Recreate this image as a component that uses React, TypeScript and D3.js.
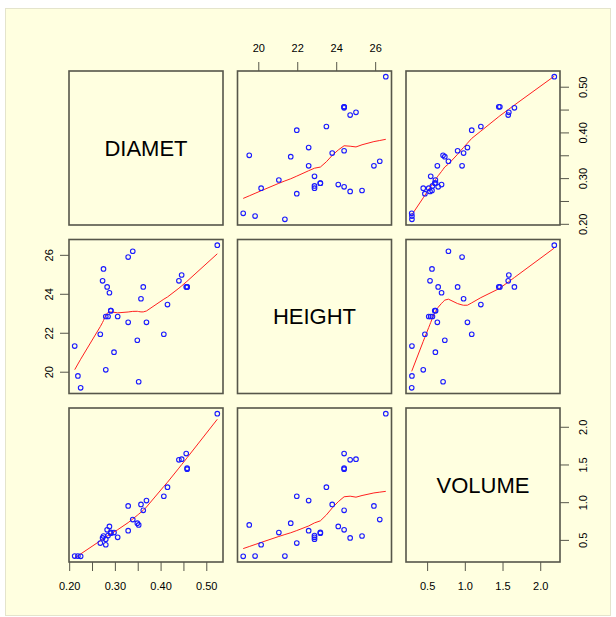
import React from 'react';
import * as d3 from 'd3';

const varNames = ['DIAMET', 'HEIGHT', 'VOLUME'];

const diamet = [0.211, 0.218, 0.224, 0.267, 0.272, 0.274, 0.279, 0.279, 0.282, 0.284, 0.287, 0.290, 0.290, 0.297, 0.305, 0.328, 0.328, 0.338, 0.348, 0.351, 0.356, 0.361, 0.368, 0.406, 0.414, 0.439, 0.445, 0.455, 0.457, 0.457, 0.523];
const height = [21.34, 19.81, 19.20, 21.95, 24.69, 25.30, 20.12, 22.86, 24.38, 22.86, 24.08, 23.16, 23.16, 21.03, 22.86, 22.56, 25.91, 26.21, 21.64, 19.51, 23.77, 24.38, 22.56, 21.95, 23.47, 24.69, 24.99, 24.38, 24.38, 24.38, 26.52];
const volume = [0.292, 0.292, 0.289, 0.464, 0.532, 0.558, 0.442, 0.515, 0.640, 0.564, 0.685, 0.595, 0.606, 0.603, 0.541, 0.629, 0.957, 0.776, 0.728, 0.705, 0.977, 0.898, 1.028, 1.085, 1.206, 1.569, 1.577, 1.651, 1.458, 1.444, 2.180];

const diametTicks = [0.20, 0.25, 0.30, 0.35, 0.40, 0.45, 0.50];
const diametLabels = [0.20, 0.30, 0.40, 0.50];
const heightTicks = [20, 22, 24, 26];
const volumeTicks = [0.5, 1.0, 1.5, 2.0];

// R-style lowess (clowess), used by panel.smooth
function lowess(xIn: number[], yIn: number[], f = 2 / 3, nsteps = 3): [number, number][] {
  const order = d3.range(xIn.length).sort((a, b) => xIn[a] - xIn[b]);
  const x = order.map(i => xIn[i]);
  const y = order.map(i => yIn[i]);
  const n = x.length;
  const delta = 0.01 * (x[n - 1] - x[0]);
  const ys = new Array(n).fill(0);
  const rw = new Array(n).fill(0);
  const res = new Array(n).fill(0);
  const ns = Math.max(2, Math.min(n, Math.floor(f * n + 1e-7)));
  const range = x[n - 1] - x[0];

  const lowest = (xs: number, nleft: number, nright: number, userw: boolean) => {
    const h = Math.max(xs - x[nleft], x[nright] - xs);
    const h9 = 0.999 * h, h1 = 0.001 * h;
    let a = 0;
    let j = nleft;
    while (j < n) {
      res[j] = 0;
      const r = Math.abs(x[j] - xs);
      if (r <= h9) {
        res[j] = r <= h1 ? 1 : Math.pow(1 - Math.pow(r / h, 3), 3);
        if (userw) res[j] *= rw[j];
        a += res[j];
      } else if (x[j] > xs) break;
      j++;
    }
    const nrt = j - 1;
    if (a <= 0) return null;
    for (let k = nleft; k <= nrt; k++) res[k] /= a;
    if (h > 0) {
      a = 0;
      for (let k = nleft; k <= nrt; k++) a += res[k] * x[k];
      let b = xs - a;
      let c = 0;
      for (let k = nleft; k <= nrt; k++) c += res[k] * (x[k] - a) * (x[k] - a);
      if (Math.sqrt(c) > 0.001 * range) {
        b /= c;
        for (let k = nleft; k <= nrt; k++) res[k] *= b * (x[k] - a) + 1;
      }
    }
    let s = 0;
    for (let k = nleft; k <= nrt; k++) s += res[k] * y[k];
    return s;
  };

  let iter = 1;
  while (iter <= nsteps + 1) {
    let nleft = 0, nright = ns - 1, last = -1, i = 0;
    for (;;) {
      if (nright < n - 1) {
        const d1 = x[i] - x[nleft];
        const d2 = x[nright + 1] - x[i];
        if (d1 > d2) { nleft++; nright++; continue; }
      }
      const v = lowest(x[i], nleft, nright, iter > 1);
      ys[i] = v === null ? y[i] : v;
      if (last < i - 1) {
        const denom = x[i] - x[last];
        for (let j = last + 1; j < i; j++) {
          const alpha = (x[j] - x[last]) / denom;
          ys[j] = alpha * ys[i] + (1 - alpha) * ys[last];
        }
      }
      last = i;
      const cut = x[last] + delta;
      for (i = last + 1; i < n; i++) {
        if (x[i] > cut) break;
        if (x[i] === x[last]) { ys[i] = ys[last]; last = i; }
      }
      i = Math.max(last + 1, i - 1);
      if (last >= n - 1) break;
    }
    for (let k = 0; k < n; k++) res[k] = y[k] - ys[k];
    let sc = 0;
    for (let k = 0; k < n; k++) sc += Math.abs(res[k]);
    sc /= n;
    if (iter > nsteps) break;
    const sorted = res.map(Math.abs).sort((a, b) => a - b);
    const m1 = Math.floor(n / 2);
    const cmad = n % 2 === 0 ? 3 * (sorted[m1] + sorted[n - m1 - 1]) : 6 * sorted[m1];
    if (cmad < 1e-7 * sc) break;
    const c9 = 0.999 * cmad, c1 = 0.001 * cmad;
    for (let k = 0; k < n; k++) {
      const r = Math.abs(res[k]);
      rw[k] = r <= c1 ? 1 : r <= c9 ? Math.pow(1 - Math.pow(r / cmad, 2), 2) : 0;
    }
    iter++;
  }
  return x.map((xv, k) => [xv, ys[k]] as [number, number]);
}

const SIZE = 154;
const PITCH = 168.5;
const X0 = 69;
const Y0 = 71;
const FRAME = '#56564a';
const FONT = '"Liberation Sans", Arial, sans-serif';

export default function App() {
  const vars = [diamet, height, volume];

  const padded = vars.map(v => {
    const [lo, hi] = d3.extent(v) as [number, number];
    const ext = (hi - lo) * 0.04;
    return [lo - ext, hi + ext];
  });
  const xs = padded.map((dom, j) => d3.scaleLinear().domain(dom).range([X0 + j * PITCH, X0 + j * PITCH + SIZE]));
  const ys = padded.map((dom, i) => d3.scaleLinear().domain(dom).range([Y0 + i * PITCH + SIZE, Y0 + i * PITCH]));

  const fmts = [d3.format('.2f'), d3.format('d'), d3.format('.1f')];
  const ticks = [diametTicks, heightTicks, volumeTicks];
  const labels = [diametLabels, heightTicks, volumeTicks];

  const panels: React.ReactNode[] = [];
  for (let i = 0; i < 3; i++) {
    for (let j = 0; j < 3; j++) {
      const px = X0 + j * PITCH;
      const py = Y0 + i * PITCH;
      const key = `${i}-${j}`;
      if (i === j) {
        panels.push(
          <text key={key + 't'} x={px + SIZE / 2} y={py + SIZE / 2} textAnchor="middle" dominantBaseline="central"
            fontFamily={FONT} fontSize={22} fill="#000">{varNames[i]}</text>
        );
      } else {
        const xv = vars[j], yv = vars[i];
        const sm = lowess(xv, yv);
        const line = d3.line<[number, number]>().x(d => xs[j](d[0])).y(d => ys[i](d[1]));
        panels.push(
          <g key={key}>
            <path d={line(sm) || ''} fill="none" stroke="#ff2020" strokeWidth={1} />
            {xv.map((v, k) => (
              <circle key={k} cx={xs[j](v)} cy={ys[i](yv[k])} r={2.3} fill="none" stroke="#1a1aff" strokeWidth={1.1} />
            ))}
          </g>
        );
      }
      panels.push(
        <rect key={key + 'r'} x={px} y={py} width={SIZE} height={SIZE} fill="none" stroke={FRAME} strokeWidth={1.6} />
      );
    }
  }

  const axes: React.ReactNode[] = [];
  const bottomY = Y0 + 2 * PITCH + SIZE;
  const rightX = X0 + 2 * PITCH + SIZE;
  // top axis: column 2
  {
    const j = 1;
    ticks[j].forEach((t, k) => axes.push(
      <line key={'tt' + k} x1={xs[j](t)} x2={xs[j](t)} y1={Y0} y2={Y0 - 9} stroke={FRAME} strokeWidth={1} />
    ));
    labels[j].forEach((t, k) => axes.push(
      <text key={'tl' + k} x={xs[j](t)} y={Y0 - 19} textAnchor="middle" fontFamily={FONT} fontSize={11} fill="#000">{fmts[j](t)}</text>
    ));
  }
  // bottom axes: columns 1 and 3
  [0, 2].forEach(j => {
    ticks[j].forEach((t, k) => axes.push(
      <line key={`bt${j}-${k}`} x1={xs[j](t)} x2={xs[j](t)} y1={bottomY} y2={bottomY + 9} stroke={FRAME} strokeWidth={1} />
    ));
    labels[j].forEach((t, k) => axes.push(
      <text key={`bl${j}-${k}`} x={xs[j](t)} y={bottomY + 28} textAnchor="middle" fontFamily={FONT} fontSize={11} fill="#000">{fmts[j](t)}</text>
    ));
  });
  // left axis: row 2
  {
    const i = 1;
    ticks[i].forEach((t, k) => axes.push(
      <line key={'lt' + k} x1={X0} x2={X0 - 9} y1={ys[i](t)} y2={ys[i](t)} stroke={FRAME} strokeWidth={1} />
    ));
    labels[i].forEach((t, k) => axes.push(
      <text key={'ll' + k} transform={`translate(${X0 - 20},${ys[i](t)}) rotate(-90)`} textAnchor="middle"
        dominantBaseline="central" fontFamily={FONT} fontSize={11} fill="#000">{fmts[i](t)}</text>
    ));
  }
  // right axes: rows 1 and 3
  [0, 2].forEach(i => {
    ticks[i].forEach((t, k) => axes.push(
      <line key={`rt${i}-${k}`} x1={rightX} x2={rightX + 9} y1={ys[i](t)} y2={ys[i](t)} stroke={FRAME} strokeWidth={1} />
    ));
    labels[i].forEach((t, k) => axes.push(
      <text key={`rl${i}-${k}`} transform={`translate(${rightX + 23},${ys[i](t)}) rotate(-90)`} textAnchor="middle"
        dominantBaseline="central" fontFamily={FONT} fontSize={11} fill="#000">{fmts[i](t)}</text>
    ));
  });

  return (
    <div style={{ position: 'absolute', left: 0, top: 0 }}>
      <svg width={616} height={617} style={{ display: 'block' }}>
        <rect x={0} y={0} width={616} height={617} fill="#fff" />
        <rect x={5.5} y={8.5} width={605} height={607} fill="#ffffe0" stroke="#e4e4cc" strokeWidth={1} />
        {panels}
        {axes}
      </svg>
    </div>
  );
}
